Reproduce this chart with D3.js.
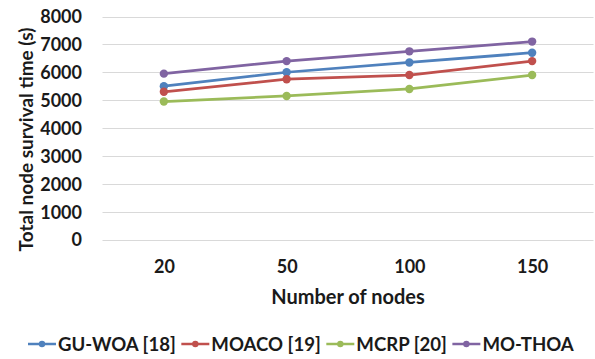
<!DOCTYPE html>
<html>
<head>
<meta charset="utf-8">
<script src="https://cdn.jsdelivr.net/npm/d3@7"></script>
<style>
  html, body { margin: 0; padding: 0; background: #fff; }
  svg text { font-family: Lato, "Open Sans", sans-serif; font-weight: bold; fill: #1a1a1a; }
</style>
</head>
<body>
<svg id="chart" width="595" height="359"></svg>
<script>
// Node counts on the x axis
const categories = ["20", "50", "100", "150"];
// Total node survival time (s) per method
const seriesNames = ["GU-WOA [18]", "MOACO [19]", "MCRP [20]", "MO-THOA"];
const guWoa  = [5500, 6000, 6350, 6700];
const moaco  = [5300, 5750, 5900, 6400];
const mcrp   = [4950, 5150, 5400, 5900];
const moThoa = [5950, 6400, 6750, 7100];
const colors = ["#4F81BD", "#C0504D", "#9BBB59", "#8064A2"];
const yTicks = [0, 1000, 2000, 3000, 4000, 5000, 6000, 7000, 8000];

const series = [guWoa, moaco, mcrp, moThoa].map((vals, i) => ({
  name: seriesNames[i], color: colors[i], values: vals
}));

const svg = d3.select("#chart");
const margin = { left: 102.5, right: 1.5, top: 16.5, bottom: 119.5 };
const W = 595, H = 359;

const x = d3.scalePoint()
  .domain(categories)
  .range([margin.left, W - margin.right])
  .padding(0.5);

const y = d3.scaleLinear()
  .domain([0, 8000])
  .range([H - margin.bottom, margin.top]);

// Horizontal gridlines
svg.append("g")
  .selectAll("line")
  .data(yTicks)
  .join("line")
  .attr("x1", margin.left)
  .attr("x2", W - margin.right)
  .attr("y1", d => Math.round(y(d)) + 0.5)
  .attr("y2", d => Math.round(y(d)) + 0.5)
  .attr("stroke", "#d9d9d9")
  .attr("stroke-width", 1);

// Y axis labels
const yAxis = d3.axisLeft(y).tickValues(yTicks).tickFormat(d3.format("d"))
  .tickSize(0).tickPadding(0);
svg.append("g")
  .attr("transform", `translate(82,0)`)
  .call(yAxis)
  .call(g => g.select(".domain").remove())
  .selectAll("text")
  .attr("font-size", 18)
  .attr("dy", "0.36em");

// X axis labels
const xAxis = d3.axisBottom(x).tickSize(0).tickPadding(0);
svg.append("g")
  .attr("transform", `translate(0,273)`)
  .call(xAxis)
  .call(g => g.select(".domain").remove())
  .selectAll("text")
  .attr("font-size", 18)
  .attr("dy", 0)
  .attr("y", 0);

// Axis titles
svg.append("text")
  .attr("x", (margin.left + W - margin.right) / 2)
  .attr("y", 304)
  .attr("text-anchor", "middle")
  .attr("font-size", 20)
  .text("Number of nodes");

svg.append("text")
  .attr("transform", `translate(33,139.5) rotate(-90)`)
  .attr("text-anchor", "middle")
  .attr("font-size", 19)
  .text("Total node survival time (s)");

// Series lines and markers
const line = d3.line()
  .x((d, i) => x(categories[i]))
  .y(d => y(d));

const sg = svg.append("g")
  .selectAll("g")
  .data(series)
  .join("g");

sg.append("path")
  .attr("d", d => line(d.values))
  .attr("fill", "none")
  .attr("stroke", d => d.color)
  .attr("stroke-width", 2.75)
  .attr("stroke-linejoin", "round");

sg.selectAll("circle")
  .data(d => d.values.map((v, i) => ({ v, i, color: d.color })))
  .join("circle")
  .attr("cx", d => x(categories[d.i]))
  .attr("cy", d => y(d.v))
  .attr("r", 4.2)
  .attr("fill", d => d.color);

// Legend
const legend = svg.append("g").attr("transform", "translate(28,344)");
let lx = 0;
series.forEach(s => {
  const item = legend.append("g").attr("transform", `translate(${lx},0)`);
  item.append("line")
    .attr("x1", 0).attr("x2", 28)
    .attr("y1", 0).attr("y2", 0)
    .attr("stroke", s.color).attr("stroke-width", 2.5);
  item.append("circle")
    .attr("cx", 14).attr("cy", 0).attr("r", 3.2)
    .attr("fill", s.color);
  const t = item.append("text")
    .attr("x", 30).attr("y", 0).attr("dy", "0.36em")
    .attr("font-size", 18.6)
    .text(s.name);
  lx += 30 + t.node().getComputedTextLength() + 5.5;
});
</script>
</body>
</html>
